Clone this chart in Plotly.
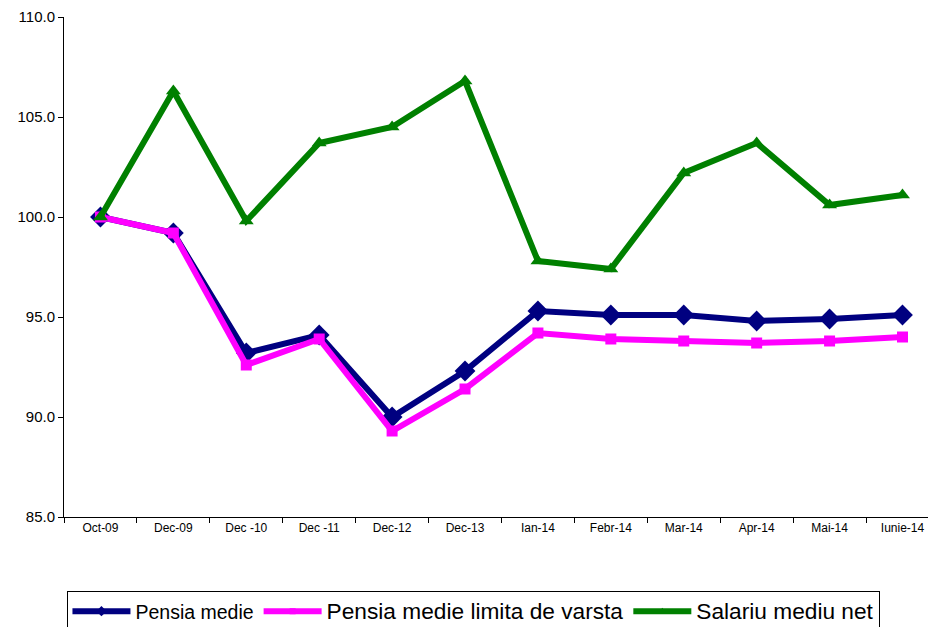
import plotly.graph_objects as go

categories = ["Oct-09", "Dec-09", "Dec -10", "Dec -11", "Dec-12", "Dec-13",
              "Ian-14", "Febr-14", "Mar-14", "Apr-14", "Mai-14", "Iunie-14"]
pensia_medie = [100.0, 99.2, 93.2, 94.1, 90.0, 92.3, 95.3, 95.1, 95.1, 94.8, 94.9, 95.1]
pensia_limita = [100.0, 99.2, 92.6, 93.9, 89.3, 91.4, 94.2, 93.9, 93.8, 93.7, 93.8, 94.0]
salariu_net = [100.0, 106.3, 99.8, 103.7, 104.5, 106.8, 97.8, 97.4, 102.2, 103.7, 100.6, 101.1]
y_ticks = [85, 90, 95, 100, 105, 110]

series = [
    ("Pensia medie", pensia_medie, "#000080", "diamond", 16, 8),
    ("<span style='font-size:22.7px'>Pensia medie limita de varsta</span>", pensia_limita, "#FF00FF", "square", 11, 6),
    ("<span style='font-size:22.7px'>Salariu mediu net</span>", salariu_net, "#008000", "triangle-up", 13, 7),
]

fig = go.Figure()
for i, (name, vals, color, sym, msize, lsize) in enumerate(series):
    fig.add_trace(go.Scatter(
        x=categories, y=vals, mode="lines+markers", name=name,
        legendgroup=f"g{i}", showlegend=False,
        line=dict(color=color, width=6),
        marker=dict(symbol=sym, size=msize, color=color),
    ))
    # legend-only entry with a small marker, like the reference legend
    fig.add_trace(go.Scatter(
        x=[None], y=[None], mode="lines+markers", name=name,
        legendgroup=f"g{i}", showlegend=True,
        line=dict(color=color, width=6),
        marker=dict(symbol=sym, size=lsize, color=color),
    ))

fig.update_layout(
    width=928, height=627,
    margin=dict(l=64, r=0, t=17, b=110, autoexpand=False),
    paper_bgcolor="white", plot_bgcolor="white",
    font=dict(family="Liberation Sans, Arial, sans-serif", color="#000000"),
    showlegend=True,
    legend=dict(
        orientation="h", x=0.004, xanchor="left", y=-0.148, yanchor="top",
        bordercolor="#000000", borderwidth=1,
        font=dict(size=19.5, family="Liberation Sans, Arial, sans-serif"),
        itemwidth=58, tracegroupgap=0,
    ),
    xaxis=dict(
        type="category", range=[-0.5, 11.35], automargin=False,
        showline=True, linecolor="#000000", linewidth=1,
        ticks="outside", tickson="boundaries", ticklen=5, tickcolor="#000000",
        tickfont=dict(size=12), showgrid=False, zeroline=False,
    ),
    yaxis=dict(
        range=[85, 110], tickvals=y_ticks, tickformat=".1f", automargin=False,
        showline=True, linecolor="#000000", linewidth=1,
        ticks="outside", ticklen=5, tickcolor="#000000",
        tickfont=dict(size=15), showgrid=False, zeroline=False,
    ),
)

fig.write_html(
    "out.html",
    config={"displayModeBar": False},
    post_script="document.body.style.margin='0';document.body.style.overflow='hidden';",
)
